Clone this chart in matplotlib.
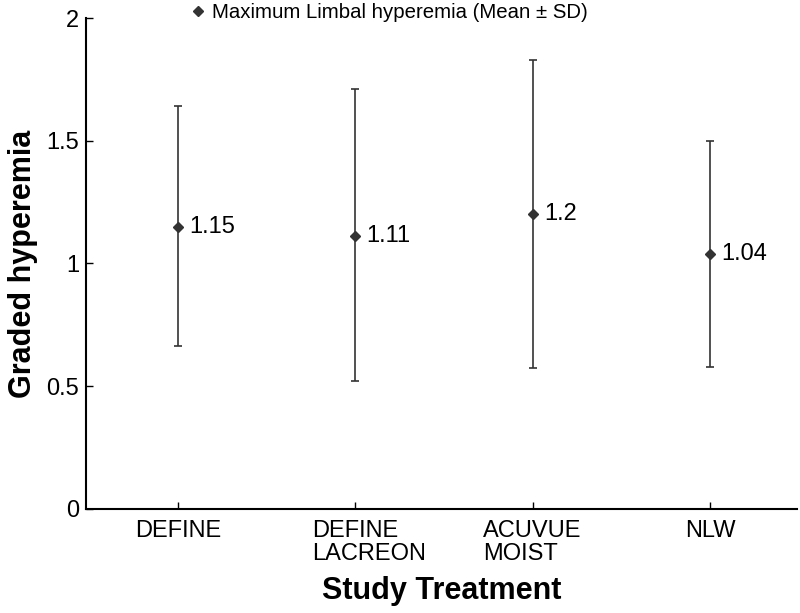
import matplotlib
matplotlib.use('Agg')
import matplotlib.pyplot as plt
import matplotlib.transforms as mtransforms
from matplotlib.lines import Line2D

# Data
treatments = ['DEFINE', 'DEFINE\nLACREON', 'ACUVUE\nMOIST', 'NLW']
means = [1.15, 1.11, 1.2, 1.04]
upper = [1.64, 1.71, 1.83, 1.50]
lower = [0.665, 0.52, 0.573, 0.58]

plt.rcParams['font.family'] = ['Liberation Sans', 'DejaVu Sans']

col = '#333333'
x = list(range(1, len(treatments) + 1))
err_lo = [m - l for m, l in zip(means, lower)]
err_hi = [u - m for m, u in zip(means, upper)]

fig = plt.figure(figsize=(8, 6.13), dpi=100)
ax = fig.add_axes([0.1075, 0.1697, 0.8885, 0.8009])

ax.errorbar(x, means, yerr=[err_lo, err_hi], fmt='D', color=col, ecolor=col,
            elinewidth=1.2, capsize=3, capthick=1.2, markersize=5.5)

for xi, m in zip(x, means):
    ax.annotate(f'{m:g}', (xi, m), xytext=(8, 0), textcoords='offset points',
                va='center', ha='left', fontsize=17, color='black')

ax.set_xlim(0.48, 4.49)
ax.set_ylim(0, 2)
ax.set_xticks(x)
ax.set_xticklabels(treatments, fontsize=17, ha='left', va='top', linespacing=1.05)
ax.set_yticks([0, 0.5, 1, 1.5, 2])
ax.set_yticklabels(['0', '0.5', '1', '1.5', '2'], fontsize=17)
ax.tick_params(axis='both', direction='in', length=5, width=1, color='black')
ax.tick_params(axis='x', pad=8)
ax.tick_params(axis='y', pad=5)

ax.spines['top'].set_visible(False)
ax.spines['right'].set_visible(False)
ax.spines['left'].set_linewidth(1.5)
ax.spines['bottom'].set_linewidth(1.5)

ax.set_xlabel('Study Treatment', fontsize=22, fontweight='bold', labelpad=8)
ax.set_ylabel('Graded hyperemia', fontsize=22, fontweight='bold', labelpad=6)

# first line of each tick label centred on its tick, later lines left-aligned to it
fig.canvas.draw()
renderer = fig.canvas.get_renderer()
for lab in ax.get_xticklabels():
    first = lab.get_text().split('\n')[0]
    w, _, _ = renderer.get_text_width_height_descent(first, lab.get_fontproperties(), ismath=False)
    shift = mtransforms.ScaledTranslation(-w / 2 / fig.dpi, 0, fig.dpi_scale_trans)
    lab.set_transform(lab.get_transform() + shift)

handle = Line2D([], [], marker='D', linestyle='none', color=col, markersize=5)
fig.legend([handle], ['Maximum Limbal hyperemia (Mean \u00b1 SD)'],
           loc='center left', bbox_to_anchor=(190 / 800, 1 - 13 / 613),
           frameon=False, fontsize=14.7, borderpad=0, borderaxespad=0,
           handlelength=0.8, handletextpad=0.3, numpoints=1)

fig.savefig('out.png', dpi=100)
